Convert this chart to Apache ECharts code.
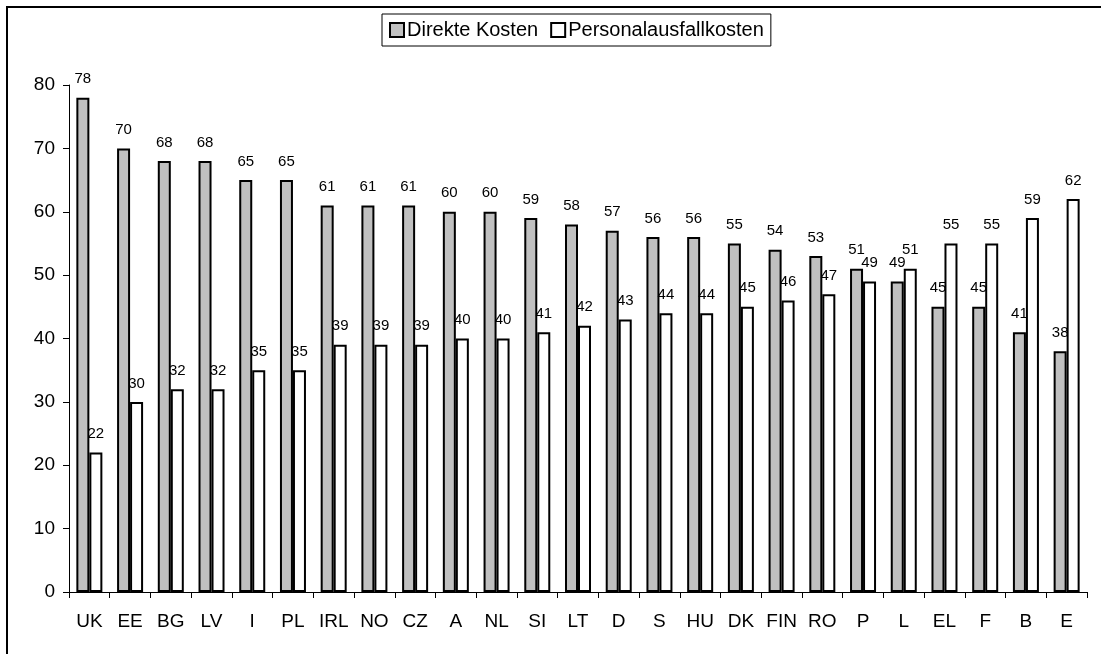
<!DOCTYPE html>
<html>
<head>
<meta charset="utf-8">
<script src="https://cdn.jsdelivr.net/npm/echarts@6/dist/echarts.min.js"></script>
<style>
html,body{margin:0;padding:0;background:#fff;}
#chart{width:1101px;height:654px;}
</style>
</head>
<body>
<div id="chart"></div>
<script>
const categories = ['UK','EE','BG','LV','I','PL','IRL','NO','CZ','A','NL','SI','LT','D','S','HU','DK','FIN','RO','P','L','EL','F','B','E'];
const direkteKosten = [78,70,68,68,65,65,61,61,61,60,60,59,58,57,56,56,55,54,53,51,49,45,45,41,38];
const personalausfallkosten = [22,30,32,32,35,35,39,39,39,40,40,41,42,43,44,44,45,46,47,49,51,55,55,59,62];
const seriesNames = ['Direkte Kosten','Personalausfallkosten'];

const FONT = 'Liberation Sans, Arial, sans-serif';
const chart = echarts.init(document.getElementById('chart'));
const labelCfg = {show:true, position:'top', distance:11, color:'#000', fontSize:15, fontFamily:FONT};
chart.setOption({
  animation:false,
  backgroundColor:'#fff',
  graphic:[{type:'rect', shape:{x:7, y:7, width:1110, height:670}, style:{fill:'none', stroke:'#000', lineWidth:2}, z:-1}],
  legend:{
    left:382, top:14, padding:[6,7], itemGap:12, itemWidth:14, itemHeight:14,
    borderColor:'#000', borderWidth:1,
    textStyle:{color:'#000', fontSize:20, fontFamily:FONT, padding:[0,0,0,-2]},
    data:seriesNames.map(n=>({name:n, icon:'rect'}))
  },
  grid:{left:69, right:14, top:85, bottom:62, containLabel:false},
  xAxis:{
    type:'category', data:categories, boundaryGap:true,
    axisLine:{lineStyle:{color:'#000', width:1}},
    axisTick:{show:true, alignWithLabel:false, length:6, lineStyle:{color:'#000'}},
    axisLabel:{color:'#000', fontSize:19, fontFamily:FONT, margin:20, interval:0}
  },
  yAxis:{
    type:'value', min:0, max:80, interval:10,
    axisLine:{show:true, lineStyle:{color:'#000', width:1}},
    axisTick:{show:true, length:6, lineStyle:{color:'#000'}},
    splitLine:{show:false},
    axisLabel:{color:'#000', fontSize:19, fontFamily:FONT, margin:14}
  },
  series:[
    {name:seriesNames[0], type:'bar', data:direkteKosten, barWidth:13, barGap:'0%',
     itemStyle:{color:'#c0c0c0', borderColor:'#000', borderWidth:2}, label:labelCfg},
    {name:seriesNames[1], type:'bar', data:personalausfallkosten, barWidth:13, barGap:'0%',
     itemStyle:{color:'#fff', borderColor:'#000', borderWidth:2}, label:labelCfg}
  ]
});
</script>
</body>
</html>
